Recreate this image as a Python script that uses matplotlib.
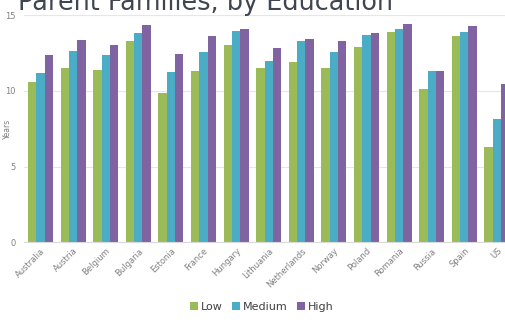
import numpy as np
import matplotlib
matplotlib.use("Agg")
import matplotlib.pyplot as plt

countries = ['Australia', 'Austria', 'Belgium', 'Bulgaria', 'Estonia', 'France',
             'Hungary', 'Lithuania', 'Netherlands', 'Norway', 'Poland', 'Romania',
             'Russia', 'Spain', 'US']
low = [10.6, 11.5, 11.4, 13.3, 9.85, 11.3, 13.0, 11.5, 11.9, 11.5, 12.9, 13.85, 10.15, 13.6, 6.3]
medium = [11.2, 12.6, 12.35, 13.8, 11.25, 12.55, 13.95, 11.95, 13.3, 12.55, 13.65, 14.05, 11.3, 13.9, 8.15]
high = [12.35, 13.35, 13.0, 14.35, 12.45, 13.6, 14.1, 12.8, 13.45, 13.3, 13.8, 14.4, 11.3, 14.25, 10.45]
series = [('Low', low, '#9BBB59'), ('Medium', medium, '#4BACC6'), ('High', high, '#8064A2')]

plt.rcParams['font.family'] = ['DejaVu Sans']

fig = plt.figure(figsize=(5.06, 3.2), dpi=100)
ax = fig.add_axes([24 / 506, 0.243, 482 / 506, 0.71])

x = np.arange(len(countries))
w = 0.255
for i, (name, vals, col) in enumerate(series):
    ax.bar(x + (i - 1) * w, vals, width=w, color=col, label=name, zorder=2)

ax.set_xlim(-0.506, 14.28)
ax.set_ylim(0, 15)
ax.set_yticks([0, 5, 10, 15])
ax.yaxis.grid(True, color='#e6e6e6', linewidth=0.8, zorder=0)
for s in ['top', 'right', 'left']:
    ax.spines[s].set_visible(False)
ax.spines['bottom'].set_color('#d9d9d9')
ax.tick_params(axis='both', length=0, labelsize=6, colors='#808080')
ax.tick_params(axis='y', pad=6)
ax.tick_params(axis='x', pad=3)
ax.set_xticks(x)
ax.set_xticklabels(countries, rotation=45, ha='right', rotation_mode='anchor')
ax.set_ylabel('Years', fontsize=5.5, color='#808080')
ax.yaxis.set_label_coords(-0.025, 0.5)

fig.text(18 / 506, 1 - 10 / 320, 'Parent Families, by Education', fontsize=18.4,
         color='#404552', va='baseline', ha='left')

leg = ax.legend(loc='center', bbox_to_anchor=(262 / 506, 1 - 307 / 320),
                bbox_transform=fig.transFigure, ncol=3, frameon=False,
                fontsize=8, handlelength=0.7, handleheight=0.7,
                handletextpad=0.3, columnspacing=0.8)
for t in leg.get_texts():
    t.set_color('#404040')

fig.savefig('out.png', dpi=100)
